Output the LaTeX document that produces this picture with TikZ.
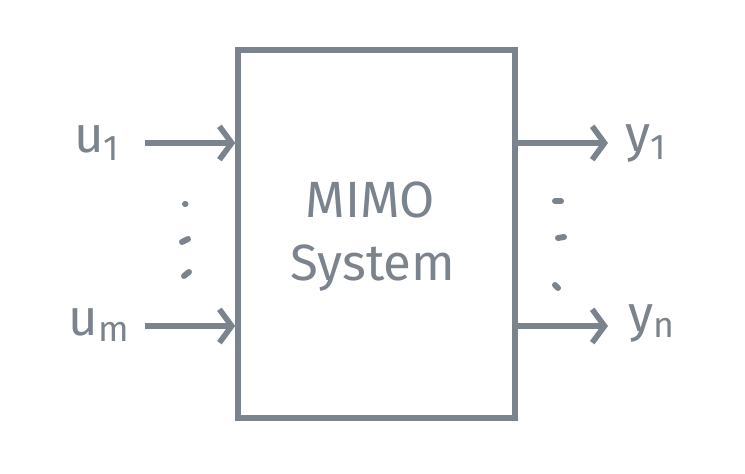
\documentclass[tikz,border=0pt]{standalone}
\usepackage{fontspec}
\setmainfont{Fira Sans}
\usetikzlibrary{arrows.meta}
\definecolor{pen}{HTML}{7B838C}

\begin{document}
\begin{tikzpicture}[x=0.02cm,y=-0.02cm]
\tikzset{every node/.style={inner sep=0pt,text=pen}}
\tikzset{label font/.style={font=\fontsize{29}{31}\selectfont}}
\tikzset{wire/.style={pen,line width=3.2pt,-{Straight Barb[length=7pt,width=19pt,line width=3.2pt]}}}
\tikzset{dotmark/.style={pen,line width=3.4pt,line cap=round}}
\useasboundingbox (0,0) rectangle (745,474);
% the block
\node [draw=pen,line width=3.2pt,minimum width=5.54cm,minimum height=7.36cm] (sys) at (376.5,234) {};
\node [label font] (title) at (370,200) {MIMO};
\node [label font] (title2) at (373,268) {System};
% inputs
\node [label font] (u1) at (97,143) {u\textsubscript{1}};
\node [label font] (um) at (99,325) {u\textsubscript{m}};
\coordinate (in1) at (145,143);
\coordinate (inm) at (145,326);
\draw [wire] (in1) -- (sys.west |- in1);
\draw [wire] (inm) -- (sys.west |- inm);
% outputs
\node [label font] (y1) at (646,143) {y\textsubscript{1}};
\node [label font] (yn) at (652,323) {y\textsubscript{n}};
\coordinate (out1) at (608,143);
\coordinate (outn) at (608,326);
\draw [wire] (sys.east |- out1) -- (out1);
\draw [wire] (sys.east |- outn) -- (outn);
% dots
\draw [dotmark] (185,204) -- (185.5,204);
\draw [dotmark] (182,242) -- (188,239);
\draw [dotmark] (184,276) -- (189,272);
\draw [dotmark] (555,201) -- (561,201);
\draw [dotmark] (558,238) -- (564,237);
\draw [dotmark] (555,285) -- (558,288);
\end{tikzpicture}
\end{document}
